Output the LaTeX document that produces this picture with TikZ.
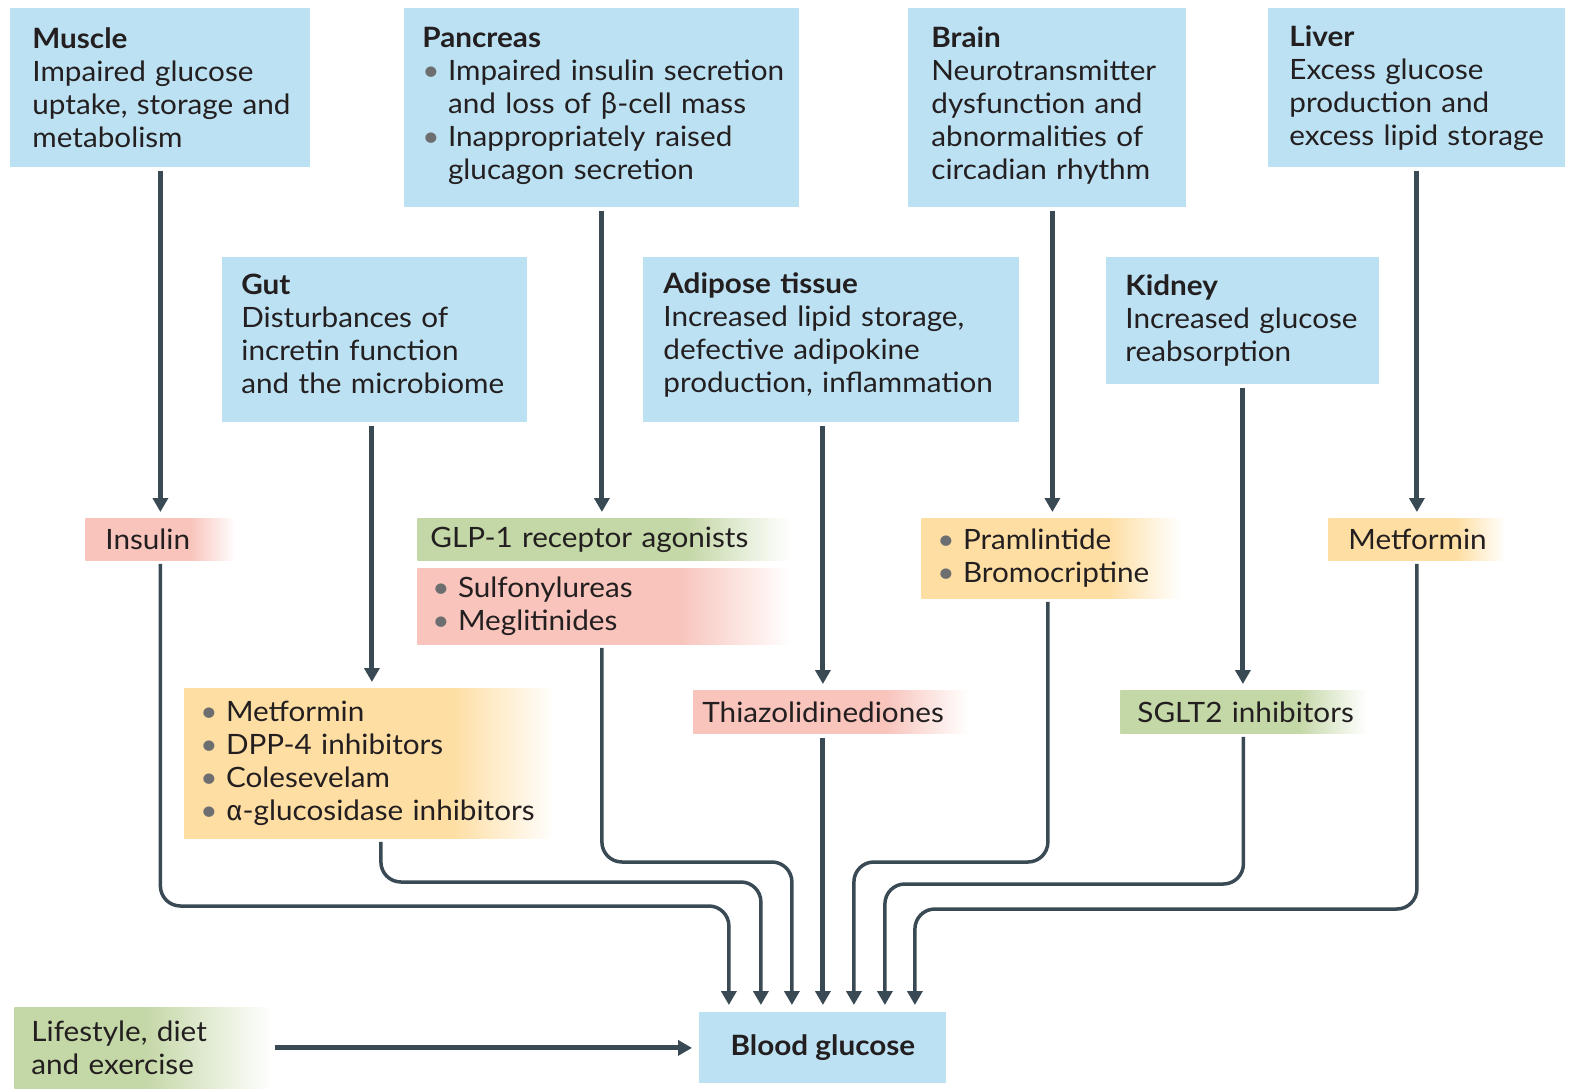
\documentclass[tikz,border=0pt]{standalone}
\usepackage{fontspec}
\setmainfont{Lato}[FakeStretch=1.06]
\newfontfamily\greekfont{Fira Sans}
\usetikzlibrary{arrows.meta}

\definecolor{organblue}{RGB}{188,225,242}
\definecolor{drugred}{RGB}{248,196,188}
\definecolor{druggreen}{RGB}{196,215,166}
\definecolor{drugorange}{RGB}{254,222,163}
\definecolor{arrowslate}{RGB}{58,74,84}
\definecolor{textdark}{RGB}{35,31,32}
\definecolor{bulletgray}{RGB}{109,110,112}

\pgfdeclarehorizontalshading{redfade}{100bp}{color(0bp)=(drugred); color(25bp)=(drugred); color(60bp)=(drugred); color(75bp)=(white); color(100bp)=(white)}
\pgfdeclarehorizontalshading{greenfade}{100bp}{color(0bp)=(druggreen); color(25bp)=(druggreen); color(61bp)=(druggreen); color(75bp)=(white); color(100bp)=(white)}
\pgfdeclarehorizontalshading{orangefade}{100bp}{color(0bp)=(drugorange); color(25bp)=(drugorange); color(61bp)=(drugorange); color(75bp)=(white); color(100bp)=(white)}
\pgfdeclarehorizontalshading{lifefade}{100bp}{color(0bp)=(druggreen); color(25bp)=(druggreen); color(50bp)=(druggreen); color(75bp)=(white); color(100bp)=(white)}

% lines are broken by hand, so no hyphenation
\newcommand{\nodefont}{\fontsize{14}{16.5}\selectfont\hyphenpenalty=10000\exhyphenpenalty=10000}
\newcommand{\bul}{{\color{bulletgray}\textbullet}\nobreak\hspace{0.3em}}
\newcommand{\bulind}{\phantom{\textbullet}\nobreak\hspace{0.3em}}

\begin{document}
\begin{tikzpicture}[x=0.5pt, y=-0.5pt, >={Triangle[length=7pt, width=7.5pt]},
  organ/.style={fill=organblue, anchor=north west, align=left, inner ysep=2pt, font=\nodefont, text=textdark},
  drug/.style={anchor=north west, align=left, inner ysep=2pt, font=\nodefont, text=textdark},
  mainarrow/.style={->, line width=2.5pt, draw=arrowslate, shorten <=1.5pt, shorten >=3pt},
  druglink/.style={->, line width=1.75pt, draw=arrowslate, rounded corners=10pt, shorten <=1.5pt, shorten >=3.5pt}]

\useasboundingbox (0,0) rectangle (1570,1091);

% organs
\node[organ, inner xsep=11pt, text width=128pt, minimum height=79.5pt] (muscle) at (10,8)
  {\textbf{Muscle}\\Impaired~glucose\\uptake,~storage~and\\metabolism};
\node[organ, inner xsep=9pt, text width=179.5pt, minimum height=99.5pt] (pancreas) at (404,8)
  {\textbf{Pancreas}\\\bul Impaired~insulin~secretion\\\bulind and~loss~of~{\greekfont β}-cell~mass\\\bul Inappropriately~raised\\\bulind glucagon~secretion\par\vspace{2pt}};
\node[organ, inner xsep=11.5pt, text width=116pt, minimum height=99.5pt] (brain) at (908,8)
  {\textbf{Brain}\\Neurotransmitter\\dysfunction~and\\abnormalities~of\\circadian~rhythm\par\vspace{2pt}};
\node[organ, inner xsep=10.5pt, text width=127.5pt, minimum height=79.5pt] (liver) at (1268,8)
  {\textbf{Liver}\\Excess~glucose\\production~and\\excess~lipid~storage};
\node[organ, inner xsep=9.5pt, text width=133.5pt, minimum height=82.5pt] (gut) at (222,257)
  {\textbf{Gut}\\Disturbances~of\\incretin~function\\and~the~microbiome\par\vspace{6pt}};
\node[organ, inner xsep=10pt, text width=168pt, minimum height=82.5pt] (adipose) at (643,257)
  {\textbf{Adipose~tissue}\\Increased~lipid~storage,\\defective~adipokine\\production,~inflammation\par\vspace{5pt}};
\node[organ, inner xsep=9.5pt, text width=117.5pt, minimum height=63.5pt] (kidney) at (1106,257)
  {\textbf{Kidney}\\Increased~glucose\\reabsorption};
\node[organ, align=center, minimum width=123.5pt, minimum height=35.5pt, font=\nodefont\bfseries] (glucose) at (699,1012)
  {Blood glucose};

% drugs
\node[drug, shading=redfade, inner xsep=10pt, text width=55pt, minimum height=21pt] (insulin) at (85,518) {Insulin};
\node[drug, shading=greenfade, inner xsep=6.5pt, text width=173.5pt, minimum height=21pt] (glp) at (417,518) {GLP-1~receptor~agonists};
\node[drug, shading=redfade, inner xsep=7.5pt, text width=171.5pt, minimum height=38pt] (sulfo) at (417,568)
  {\bul Sulfonylureas\\\bul Meglitinides};
\node[drug, shading=orangefade, inner xsep=8pt, text width=113.5pt, minimum height=40pt] (pram) at (921,518)
  {\bul Pramlintide\\\bul Bromocriptine};
\node[drug, shading=orangefade, inner xsep=10pt, text width=68.5pt, minimum height=21pt] (metliver) at (1328,518) {Metformin};
\node[drug, shading=orangefade, inner xsep=8pt, text width=169.5pt, minimum height=75pt] (gutdrugs) at (184,688)
  {\bul Metformin\\\bul DPP-4~inhibitors\\\bul Colesevelam\\\bul {\greekfont α}-glucosidase~inhibitors};
\node[drug, shading=redfade, inner xsep=4.5pt, text width=128.5pt, minimum height=21.5pt] (thiaz) at (693,690) {Thiazolidinediones};
\node[drug, shading=greenfade, inner xsep=8.5pt, text width=106pt, minimum height=21.5pt] (sglt) at (1120,690) {SGLT2~inhibitors};
\node[drug, shading=lifefade, inner xsep=8.5pt, text width=112pt, minimum height=40.5pt] (lifestyle) at (14,1007)
  {Lifestyle,~diet\\and~exercise};

% entry points on top of blood glucose
\foreach \k/\dx in {1/-47,2/-31,3/-15.5,5/15.5,6/31,7/46}
  \coordinate (g\k) at ([xshift=\dx pt]glucose.north);

% levels of the horizontal runs
\coordinate (lvlinsulin) at (0,906);
\coordinate (lvlgut) at (0,882);
\coordinate (lvlsulfo) at (0,862);
\coordinate (lvlpram) at (0,862);
\coordinate (lvlsglt) at (0,884);
\coordinate (lvlmet) at (0,909);

% organ -> drug
\draw[mainarrow] (muscle) -- (insulin);
\draw[mainarrow] (pancreas.south) -- (pancreas.south |- glp.north);
\draw[mainarrow] ([xshift=2.5pt]brain.south) -- ([xshift=2.5pt]brain.south |- pram.north);
\draw[mainarrow] (liver) -- (metliver);
\draw[mainarrow] ([xshift=-1.5pt]gut.south) -- ([xshift=-1.5pt]gut.south |- gutdrugs.north);
\draw[mainarrow] (adipose.south -| glucose.north) -- (thiaz.north -| glucose.north);
\draw[mainarrow] (kidney.south) -- (kidney.south |- sglt.north);

% drug -> blood glucose
\draw[druglink] (insulin.south) |- (g1 |- lvlinsulin) -- (g1);
\draw[druglink] ([xshift=5.5pt]gutdrugs.south) |- (g2 |- lvlgut) -- (g2);
\draw[druglink] ([xshift=-1pt]sulfo.south) |- (g3 |- lvlsulfo) -- (g3);
\draw[mainarrow, shorten <=2pt, shorten >=3.5pt] (thiaz.south -| glucose.north) -- (glucose.north);
\draw[druglink] ([xshift=-1.5pt]pram.south) |- (g5 |- lvlpram) -- (g5);
\draw[druglink] (sglt.south) |- (g6 |- lvlsglt) -- (g6);
\draw[druglink] (metliver.south) |- (g7 |- lvlmet) -- (g7);
\draw[mainarrow, shorten <=1pt, shorten >=3.5pt] (lifestyle) -- (glucose);

\end{tikzpicture}
\end{document}
